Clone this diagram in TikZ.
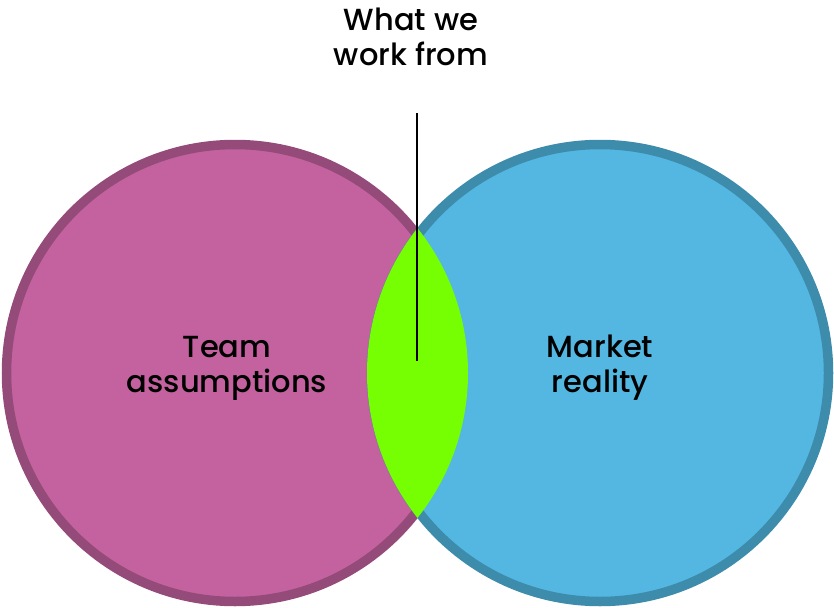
\documentclass[tikz,border=0pt]{standalone}
\usepackage{fontspec}
\setmainfont{Poppins}
\newfontfamily\lblfont{Poppins Medium}
\definecolor{pinkfill}{HTML}{C462A0}
\definecolor{pinkline}{HTML}{954B7A}
\definecolor{bluefill}{HTML}{53B7E1}
\definecolor{blueline}{HTML}{3E8CAC}
\definecolor{lensgreen}{HTML}{76FF03}
\begin{document}
\begin{tikzpicture}[x=1pt,y=-1pt,
  setcircle/.style={line width=9.5pt},
  lbl/.style={align=center,font=\lblfont\fontsize{30.5}{35}\selectfont,text=black,inner sep=0pt}]
\useasboundingbox (0,0) rectangle (834,607);
% circles
\fill[pinkfill,draw=pinkline,setcircle] (235,373) circle[radius=228.5];
\fill[bluefill,draw=blueline,setcircle] (600,373) circle[radius=228.5];
% lens
\begin{scope}
  \clip (235,373) circle[radius=233];
  \fill[lensgreen] (600,373) circle[radius=233];
\end{scope}
% labels
\node[lbl] (top) at (411,37) {What we\\work from};
\node[lbl] (team) at (227,368) {Team\\assumptions};
\node[lbl] (market) at (600,368) {Market\\reality};
\coordinate (linetop) at (417,113);
\coordinate (lineend) at (417,361);
\draw[line width=2pt,black] (linetop) -- (lineend);
\end{tikzpicture}
\end{document}
